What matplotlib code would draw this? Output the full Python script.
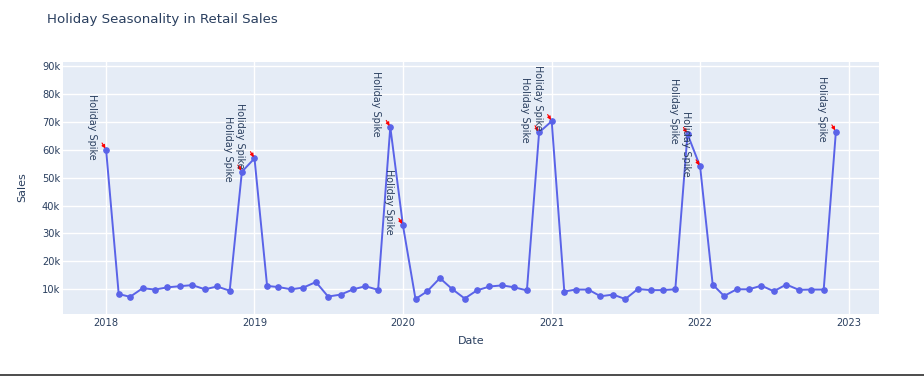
import numpy as np
import pandas as pd
import matplotlib
matplotlib.use('Agg')
import matplotlib.pyplot as plt
from matplotlib.patches import Rectangle

plt.rcParams['font.family'] = ['DejaVu Sans']

dates = pd.date_range('2018-01-01', '2022-12-01', freq='MS')
sales = [
    60000, 8300, 7300, 10400, 9900, 10700, 11100, 11500, 10000, 11000, 9500, 52100,   # 2018
    56900, 11200, 10800, 10000, 10600, 12600, 7400, 8100, 10000, 11100, 9800, 68100,  # 2019
    33000, 6500, 9300, 14000, 10100, 6700, 9600, 11000, 11400, 10700, 9600, 66200,    # 2020
    70200, 9200, 9900, 9900, 7500, 8100, 6500, 10100, 9700, 9700, 10000, 65600,       # 2021
    54000, 11700, 7600, 10000, 10000, 11300, 9300, 11700, 9800, 9900, 9900, 66500,    # 2022
]
spike_months = [12, 1]
note = 'Holiday Spike'
yticks = [10000, 20000, 30000, 40000, 50000, 60000, 70000, 80000, 90000]
ytick_labels = ['10k', '20k', '30k', '40k', '50k', '60k', '70k', '80k', '90k']
years = [2018, 2019, 2020, 2021, 2022, 2023]

txt = '#2a3f5f'
W, H = 924, 376
fig = plt.figure(figsize=(W / 100, H / 100), dpi=100)
ax = fig.add_axes([63 / W, (H - 314) / H, (879 - 63) / W, (314 - 62.3) / H])
ax.set_facecolor('#E5ECF6')
for s in ax.spines.values():
    s.set_visible(False)

ax.plot(dates, sales, color='#5a63e8', lw=1.4, marker='o', ms=3.8, zorder=3)

for d, v in zip(dates, sales):
    if d.month in spike_months:
        ax.annotate(note, xy=(d, v), xytext=(-14, 23), textcoords='offset pixels',
                    rotation=-90, ha='center', va='center', fontsize=6.9, color=txt,
                    arrowprops=dict(arrowstyle='-|>', color='red', lw=0.8,
                                    mutation_scale=5, shrinkA=3, shrinkB=1),
                    zorder=4)

ax.set_xlim(pd.Timestamp('2017-09-17'), pd.Timestamp('2023-03-17'))
ax.set_ylim(1150, 91300)
ax.set_yticks(yticks)
ax.set_yticklabels(ytick_labels)
ax.set_xticks([pd.Timestamp(f'{y}-01-01') for y in years])
ax.set_xticklabels([str(y) for y in years])
ax.grid(True, color='white', lw=1)
ax.set_axisbelow(True)
ax.tick_params(length=0, colors=txt, labelsize=7.1)
ax.tick_params(axis='y', pad=2)
ax.tick_params(axis='x', pad=3)

fig.text(471 / W, 1 - 341 / H, 'Date', fontsize=8, color=txt, ha='center', va='center')
fig.text(22 / W, 1 - 187 / H, 'Sales', fontsize=8, color=txt, ha='center', va='center',
         rotation=90)
fig.text(47 / W, 1 - 19 / H, 'Holiday Seasonality in Retail Sales',
         fontsize=9.6, color=txt, ha='left', va='center')

fig.add_artist(Rectangle((0, 0), 1, 2.5 / H, transform=fig.transFigure,
                         facecolor='#505050', edgecolor='none'))

fig.savefig('out.png', dpi=100)
